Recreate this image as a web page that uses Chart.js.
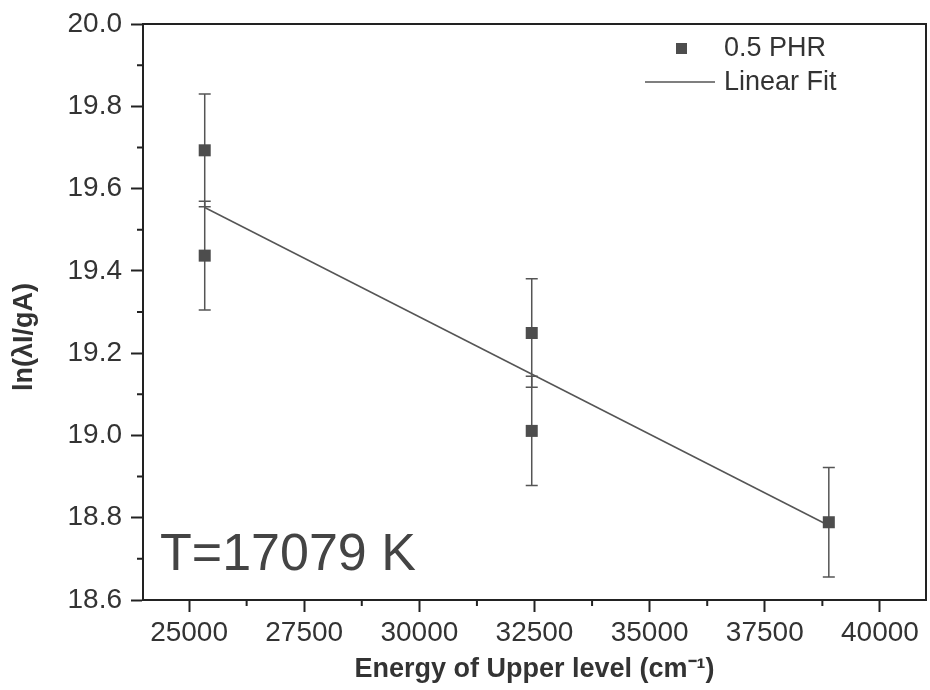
<html>
<head>
<script src="https://cdn.jsdelivr.net/npm/chart.js@4.4.0/dist/chart.umd.min.js"></script>
<style>
    body { margin: 0; background: #fff; }
    canvas { display: block; }
</style>
</head>
<body>
<canvas id="myChart" width="930" height="690"></canvas>
<script>
// measured points (0.5 PHR) with error bars
var energy = [25340, 25340, 32440, 32440, 38890];
var lnValue = [19.693, 19.437, 19.249, 19.011, 18.789];
var lnError = [0.137, 0.132, 0.132, 0.133, 0.133];
// linear fit end points
var fitX = [25340, 38890];
var fitY = [19.554, 18.781];
var xTicks = [25000, 27500, 30000, 32500, 35000, 37500, 40000];
var yTicks = [18.6, 18.8, 19.0, 19.2, 19.4, 19.6, 19.8, 20.0];
var seriesName = '0.5 PHR';
var fitName = 'Linear Fit';
var yTitle = 'ln(\u03BBI/gA)';
var tempLabel = 'T=17079 K';

var FONT = '"Liberation Sans", Arial, sans-serif';
var INK = '#333';
var MARK = '#4d4d4d';

var extras = {
    id: 'extras',
    beforeDatasetsDraw: function(chart) {
        var ctx = chart.ctx, xs = chart.scales.x, ys = chart.scales.y;
        ctx.save();
        ctx.strokeStyle = '#555';
        ctx.lineWidth = 1.5;
        energy.forEach(function(e, i) {
            var x = xs.getPixelForValue(e);
            var top = ys.getPixelForValue(lnValue[i] + lnError[i]);
            var bot = ys.getPixelForValue(lnValue[i] - lnError[i]);
            ctx.beginPath();
            ctx.moveTo(x, top); ctx.lineTo(x, bot);
            ctx.moveTo(x - 6, top); ctx.lineTo(x + 6, top);
            ctx.moveTo(x - 6, bot); ctx.lineTo(x + 6, bot);
            ctx.stroke();
        });
        ctx.restore();
    },
    afterDraw: function(chart) {
        var ctx = chart.ctx, a = chart.chartArea, xs = chart.scales.x, ys = chart.scales.y;
        ctx.save();
        // frame
        ctx.strokeStyle = '#222';
        ctx.lineWidth = 2;
        ctx.strokeRect(a.left, a.top, a.right - a.left, a.bottom - a.top);
        // minor ticks halfway between the major ones
        ctx.beginPath();
        for (var i = 0; i < xTicks.length - 1; i++) {
            var mx = xs.getPixelForValue((xTicks[i] + xTicks[i + 1]) / 2);
            ctx.moveTo(mx, a.bottom); ctx.lineTo(mx, a.bottom + 6);
        }
        for (var j = 0; j < yTicks.length - 1; j++) {
            var my = ys.getPixelForValue((yTicks[j] + yTicks[j + 1]) / 2);
            ctx.moveTo(a.left, my); ctx.lineTo(a.left - 6, my);
        }
        ctx.stroke();

        // y axis title, sits a bit below the middle in the original
        ctx.save();
        ctx.translate(25, (a.top + a.bottom) / 2 + 25);
        ctx.rotate(-Math.PI / 2);
        ctx.font = 'bold 27px ' + FONT;
        ctx.fillStyle = INK;
        ctx.textAlign = 'center';
        ctx.textBaseline = 'middle';
        ctx.fillText(yTitle, 0, 0);
        ctx.restore();

        // legend
        var lx = a.right - 245, ly = a.top + 24;
        ctx.fillStyle = MARK;
        ctx.fillRect(lx - 5, ly - 5, 11, 11);
        ctx.strokeStyle = '#555';
        ctx.lineWidth = 1.5;
        ctx.beginPath();
        ctx.moveTo(lx - 36, ly + 34); ctx.lineTo(lx + 34, ly + 34);
        ctx.stroke();
        ctx.fillStyle = INK;
        ctx.font = '27px ' + FONT;
        ctx.textBaseline = 'middle';
        ctx.fillText(seriesName, lx + 43, ly + 1);
        ctx.fillText(fitName, lx + 43, ly + 35);

        // temperature label
        ctx.font = '52px ' + FONT;
        ctx.fillStyle = '#444';
        ctx.textBaseline = 'alphabetic';
        ctx.fillText(tempLabel, a.left + 17, a.bottom - 30);
        ctx.restore();
    }
};

var ctx = document.getElementById('myChart').getContext('2d');
var chart = new Chart(ctx, {
    type: 'scatter',
    data: {
        datasets: [
            {
                label: seriesName,
                data: energy.map(function(e, i) { return { x: e, y: lnValue[i] }; }),
                pointStyle: 'rect',
                pointRadius: 8.5,
                pointHoverRadius: 8.5,
                backgroundColor: MARK,
                borderColor: MARK,
                borderWidth: 0
            },
            {
                label: fitName,
                type: 'line',
                data: fitX.map(function(e, i) { return { x: e, y: fitY[i] }; }),
                showLine: true,
                pointRadius: 0,
                borderColor: '#555',
                borderWidth: 1.5,
                fill: false
            }
        ]
    },
    options: {
        responsive: false,
        animation: false,
        layout: { autoPadding: false, padding: { top: 24, right: 4, left: 0, bottom: 0 } },
        plugins: { legend: { display: false }, tooltip: { enabled: false } },
        scales: {
            x: {
                type: 'linear',
                min: 24000,
                max: 41000,
                afterBuildTicks: function(s) { s.ticks = xTicks.map(function(v) { return { value: v }; }); },
                afterFit: function(s) { s.height = 90; s.paddingLeft = 0; s.paddingRight = 0; },
                border: { display: true, color: '#222', width: 2 },
                grid: { drawOnChartArea: false, drawTicks: true, tickLength: 12, tickColor: '#222', tickWidth: 2 },
                ticks: {
                    padding: 4,
                    color: INK,
                    maxRotation: 0,
                    font: { family: FONT, size: 28 },
                    callback: function(v) { return String(v); }
                },
                title: {
                    display: true,
                    text: 'Energy of Upper level (cm\u207B\u00B9)',
                    color: INK,
                    font: { family: FONT, size: 27, weight: 'bold' },
                    padding: { top: 0, bottom: 4 }
                }
            },
            y: {
                type: 'linear',
                min: 18.6,
                max: 20.0,
                afterBuildTicks: function(s) { s.ticks = yTicks.map(function(v) { return { value: v }; }); },
                afterFit: function(s) { s.width = 143; s.paddingTop = 0; s.paddingBottom = 0; },
                border: { display: true, color: '#222', width: 2 },
                grid: { drawOnChartArea: false, drawTicks: true, tickLength: 12, tickColor: '#222', tickWidth: 2 },
                ticks: {
                    padding: 9,
                    color: INK,
                    font: { family: FONT, size: 28 },
                    callback: function(v) { return Number(v).toFixed(1); }
                }
            }
        }
    },
    plugins: [extras]
});
</script>
</body>
</html>
